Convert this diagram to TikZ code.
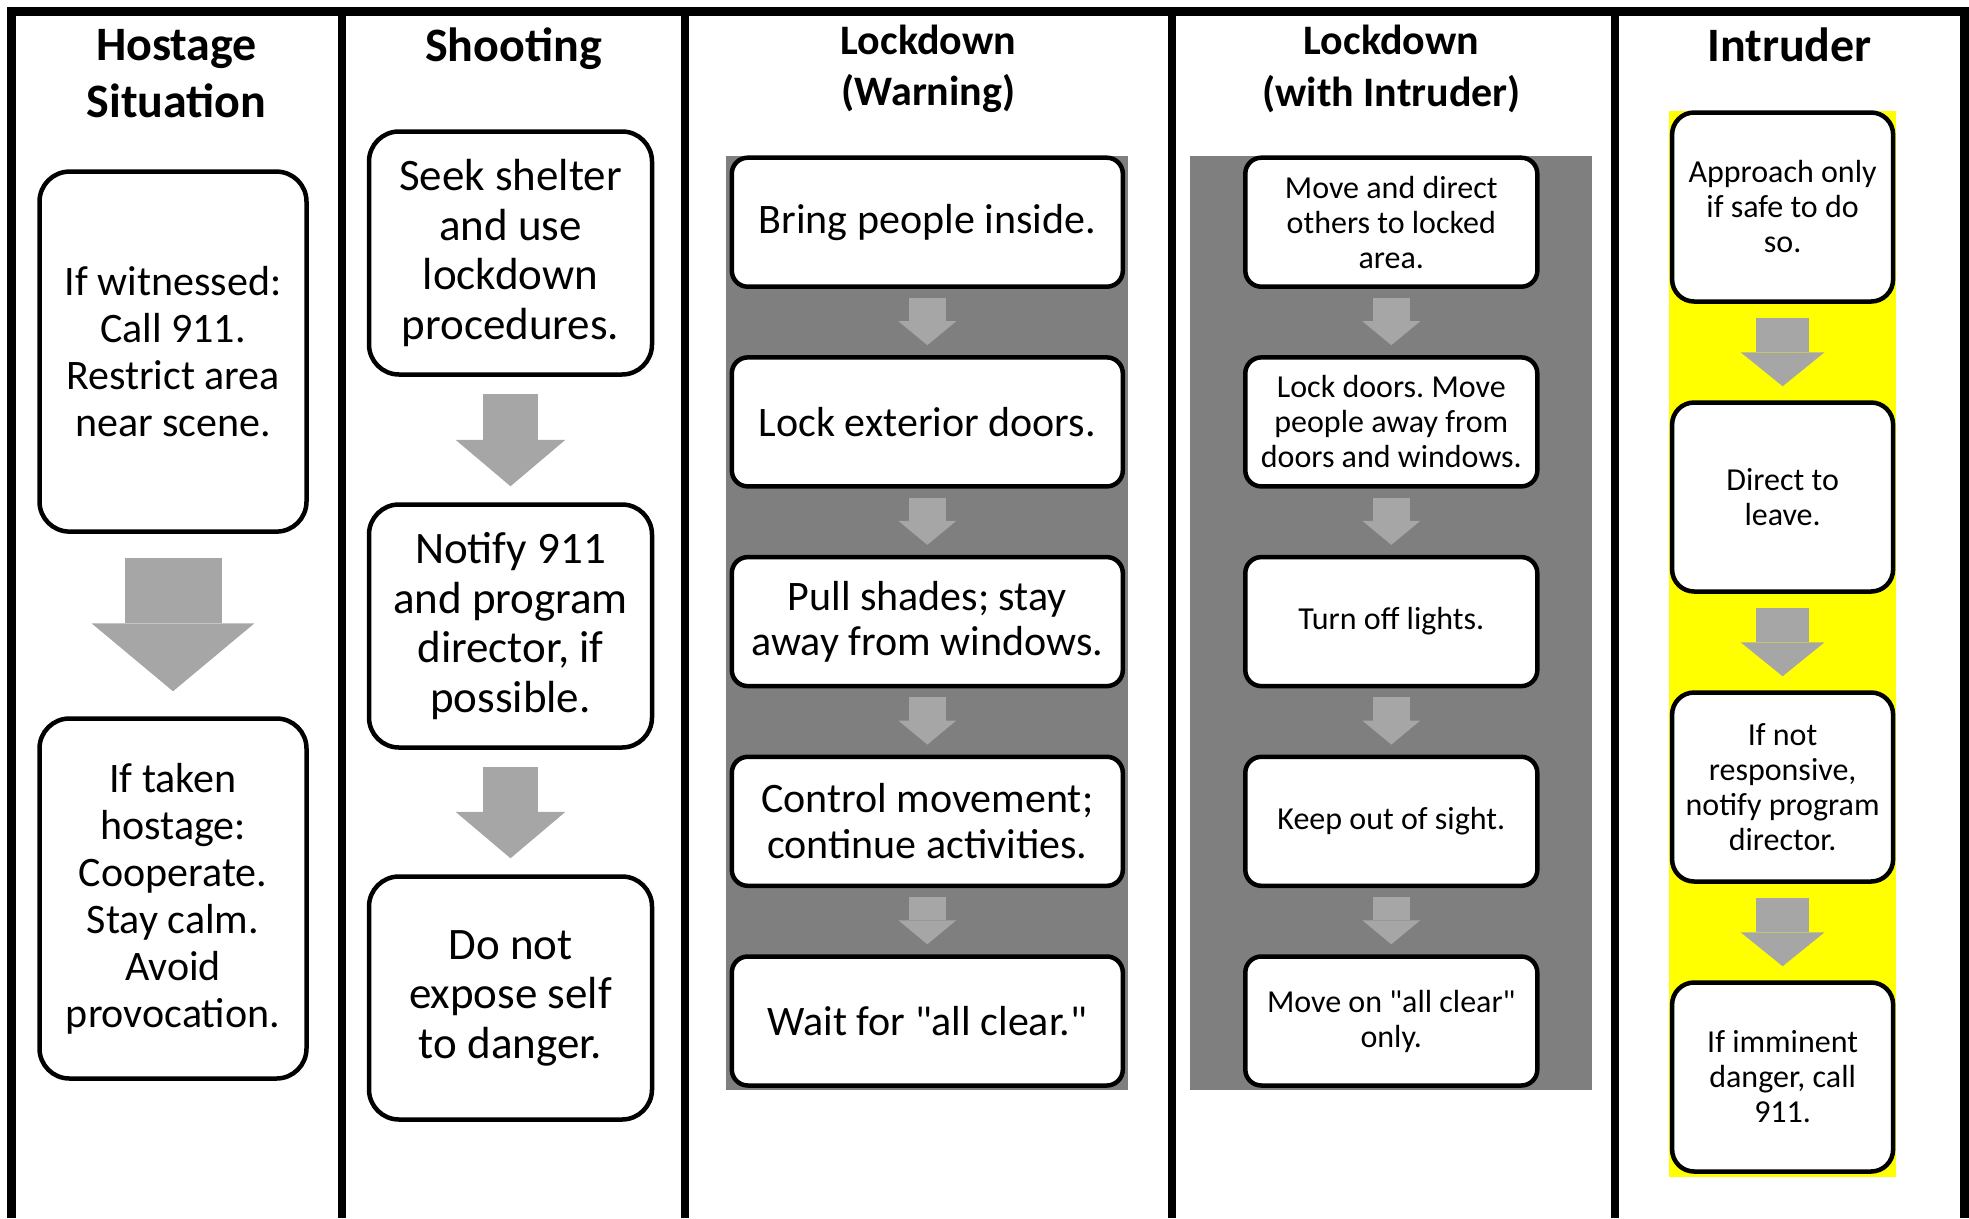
\documentclass[tikz,border=0pt]{standalone}
\usepackage{fontspec}
\setmainfont{Carlito}[Ligatures=TeXOff]
\usetikzlibrary{arrows.meta}
\frenchspacing
\definecolor{bggray}{HTML}{7F7F7F}
\definecolor{arrowgray}{HTML}{A6A6A6}
\definecolor{bgyellow}{HTML}{FFFF00}
\pgfdeclarelayer{bg}
\pgfsetlayers{bg,main}
\tikzset{
    box/.style={draw, fill=white, line width=4.5pt, align=center, inner sep=0pt},
    hdr/.style={align=center, inner sep=0pt, font=\bfseries\fontsize{48}{57}\selectfont},
    lhdr/.style={hdr, font=\bfseries\fontsize{42}{51.5}\selectfont},
    hbox/.style={box, rounded corners=30pt, minimum width=267pt, minimum height=360pt, font=\fontsize{42}{47}\selectfont},
    sbox/.style={box, rounded corners=30pt, minimum width=283pt, minimum height=243pt, font=\fontsize{45}{49.5}\selectfont},
    wbox/.style={box, rounded corners=16pt, minimum width=391pt, minimum height=129pt, font=\fontsize{42}{45.5}\selectfont},
    ibox/.style={box, rounded corners=16pt, minimum width=292pt, minimum height=129pt, font=\fontsize{32}{35}\selectfont},
    tbox/.style={box, rounded corners=22pt, minimum width=221pt, minimum height=189pt, font=\fontsize{32}{35}\selectfont},
    fat/.style n args={5}{draw=arrowgray, line width=#1pt, -{Triangle[width=#2pt, length=#3pt, line width=0pt]}, shorten <=#4pt, shorten >=#5pt}
}

\begin{document}
\begin{tikzpicture}[x=1pt, y=-1pt]
        \useasboundingbox (0,0) rectangle (1969,1218);
        \begin{pgfonlayer}{bg}
                \fill[bggray] (725.8,155.7) rectangle (1127.6,1090);
                \fill[bggray] (1190.4,155.7) rectangle (1592.2,1090);
                \fill[bgyellow] (1668.8,110.5) rectangle (1896.1,1176.6);
        \end{pgfonlayer}
        \draw[line width=9pt] (11,1218) -- (11,11) -- (1964,11) -- (1964,1218);
        \foreach \x in {342,685,1172,1615}
                \draw[line width=8pt] (\x,11) -- (\x,1218);

        \node (h1) [hdr] at (176.5,73.5) {Hostage\\Situation};
        \node (h2) [hdr] at (513.5,48.5) {Shooting};
        \node (h3) [lhdr] at (928.5,69) {Lockdown\\(Warning)};
        \node (h4) [lhdr] at (1391.5,69) {Lockdown\\(with Intruder)};
        \node (h5) [hdr] at (1789.5,45) {Intruder};

        \node (a1) [hbox] at (173,351.6) {If witnessed:\\Call 911.\\Restrict area\\near scene.};
        \node (a2) [hbox] at (173,898.5) {If taken\\hostage:\\Cooperate.\\Stay calm.\\Avoid\\provocation.};

        \node (b1) [sbox] at (510.5,253) {Seek shelter\\and use\\lockdown\\procedures.};
        \node (b2) [sbox] at (510.5,626) {Notify 911\\and program\\director, if\\possible.};
        \node (b3) [sbox] at (510.5,998) {Do not\\expose self\\to danger.};

        \node (c1) [wbox] at (927.3,222.2) {Bring people inside.};
        \node (c2) [wbox] at (927.3,421.9) {Lock exterior doors.};
        \node (c3) [wbox] at (927.3,621.6) {Pull shades; stay\\away from windows.};
        \node (c4) [wbox] at (927.3,821.3) {Control movement;\\continue activities.};
        \node (c5) [wbox] at (927.3,1021) {Wait for "all clear."};

        \node (d1) [ibox] at (1391.3,222.2) {Move and direct\\others to locked\\area.};
        \node (d2) [ibox] at (1391.3,421.9) {Lock doors. Move\\people away from\\doors and windows.};
        \node (d3) [ibox] at (1391.3,621.6) {Turn off lights.};
        \node (d4) [ibox] at (1391.3,821.3) {Keep out of sight.};
        \node (d5) [ibox] at (1391.3,1021) {Move on "all clear"\\only.};

        \node (e1) [tbox] at (1782.6,207) {Approach only\\if safe to do\\so.};
        \node (e2) [tbox] at (1782.6,497) {Direct to\\leave.};
        \node (e3) [tbox] at (1782.6,787) {If not\\responsive,\\notify program\\director.};
        \node (e4) [tbox] at (1782.6,1077) {If imminent\\danger, call\\911.};

        \draw[fat={97}{163}{68}{24}{25}] (a1) -- (a2);
        \draw[fat={55}{110}{46.5}{17}{16}] (b1) -- (b2);
        \draw[fat={55}{110}{46.5}{17}{16}] (b2) -- (b3);
        \draw[fat={37.6}{58}{24}{9}{10}] (c1) -- (c2);
        \draw[fat={37.6}{58}{24}{9}{10}] (c2) -- (c3);
        \draw[fat={37.6}{58}{24}{9}{10}] (c3) -- (c4);
        \draw[fat={37.6}{58}{24}{9}{10}] (c4) -- (c5);
        \draw[fat={37.6}{58}{24}{9}{10}] (d1) -- (d2);
        \draw[fat={37.6}{58}{24}{9}{10}] (d2) -- (d3);
        \draw[fat={37.6}{58}{24}{9}{10}] (d3) -- (d4);
        \draw[fat={37.6}{58}{24}{9}{10}] (d4) -- (d5);
        \draw[fat={53}{84}{34}{14}{14}] (e1) -- (e2);
        \draw[fat={53}{84}{34}{14}{14}] (e2) -- (e3);
        \draw[fat={53}{84}{34}{14}{14}] (e3) -- (e4);
\end{tikzpicture}
\end{document}
